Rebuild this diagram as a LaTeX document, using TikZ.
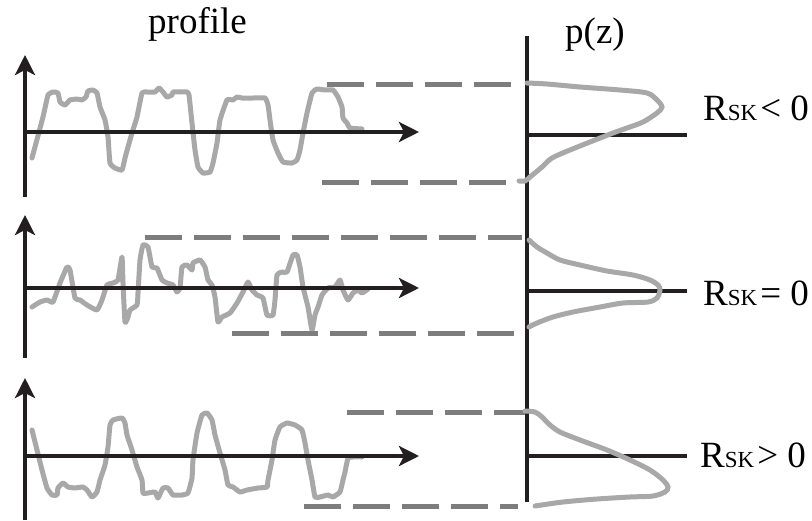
\documentclass[tikz,border=0pt]{standalone}
\usepackage{fontspec}
\setmainfont{Liberation Serif}
\usetikzlibrary{arrows.meta}
\definecolor{axisblack}{RGB}{35,31,32}
\definecolor{curvegray}{RGB}{168,168,168}
\definecolor{levelgray}{RGB}{125,125,125}
\tikzset{
  axis/.style={draw=axisblack, line width=4.5pt},
  arrowaxis/.style={axis, -{Stealth[length=20pt,width=20pt,inset=5pt]}},
  profilecurve/.style={draw=curvegray, line width=5pt, line join=round, line cap=round},
  densitycurve/.style={draw=curvegray, line width=5pt, line cap=round},
  level/.style={draw=levelgray, line width=5pt, dash pattern=on 37pt off 12pt},
  lbl/.style={inner sep=0pt, anchor=base west, font=\fontsize{37}{40}\selectfont},
  rsk/.style={inner sep=0pt, anchor=base west, font=\fontsize{37}{40}\selectfont},
}
\newcommand{\skname}{R{\fontsize{23}{23}\selectfont SK}\kern3pt}
\begin{document}
\begin{tikzpicture}[x=1pt,y=-1pt]
\useasboundingbox (0,0) rectangle (812,520);

% ---------- titles ----------
\node[lbl] (tprofile) at (148,33) {profile};
\node[lbl] (tpz) at (565,43) {p(z)};

% ---------- profile curves ----------
\draw[profilecurve] plot[smooth, tension=0.25] coordinates {
 (32,158) (43,117) (48,95) (53,92) (58,93) (60,102) (65,105) (70,100) (77,99)
 (82,100) (86,97) (88,91) (93,90) (97,93) (100,107) (105,120) (108,137) (110,163)
 (115,168) (122,170) (125,158) (128,147) (132,133) (137,117) (142,93) (147,92)
 (155,92) (159,88) (163,92) (167,97) (172,95) (173,92) (180,92) (187,92) (189,95)
 (192,123) (195,150) (198,167) (203,173) (210,172) (213,163) (217,143) (220,120)
 (227,100) (233,100) (237,97) (242,98) (253,98) (265,98) (268,105) (270,120)
 (273,140) (278,153) (283,162) (292,163) (297,160) (300,150) (303,133) (307,113)
 (312,93) (317,89) (325,90) (333,90) (338,97) (342,107) (343,118) (347,123)
 (350,128) (362,129)};

\draw[profilecurve] plot[smooth, tension=0.25] coordinates {
 (32,307) (40,302) (47,300) (53,302) (60,283) (67,267) (70,270) (75,298) (80,300)
 (87,305) (97,310) (102,300) (107,285) (113,283) (118,280) (122,257) (123,283)
 (125,322) (128,317) (130,310) (137,305) (138,293) (140,260) (143,245) (148,247)
 (152,267) (157,268) (162,280) (167,283) (173,285) (177,292) (180,288) (182,267)
 (187,265) (192,270) (193,263) (200,260) (205,267) (208,280) (212,285) (215,297)
 (218,322) (222,317) (230,313) (237,303) (243,292) (248,282) (252,290) (257,295)
 (263,298) (267,315) (273,315) (275,300) (277,275) (282,272) (287,272) (293,255)
 (297,255) (300,267) (303,287) (308,307) (312,330) (315,315) (318,307) (322,295)
 (328,288) (335,287) (340,280) (343,290) (348,300) (353,293) (358,290) (362,293)
 (368,289)};

\draw[profilecurve] plot[smooth, tension=0.25] coordinates {
 (32,430) (37,450) (42,470) (47,488) (52,495) (57,495) (58,488) (63,483) (68,487)
 (75,488) (83,487) (87,490) (92,497) (97,492) (100,480) (105,465) (108,447)
 (110,425) (113,420) (122,418) (125,423) (127,435) (132,450) (137,467) (142,480)
 (143,493) (148,493) (155,492) (158,498) (163,488) (168,488) (173,495) (182,495)
 (188,493) (192,478) (193,460) (197,433) (202,415) (207,413) (212,420) (215,435)
 (220,453) (225,470) (228,485) (233,487) (240,492) (247,490) (258,488) (267,487)
 (268,480) (272,460) (275,440) (280,427) (287,423) (295,425) (302,430) (305,443)
 (308,460) (312,480) (315,497) (320,497) (328,495) (333,497) (340,492) (343,480)
 (345,472) (348,458) (353,457) (362,457)};

% ---------- profile axes ----------
\coordinate (v1a) at (25,197); \coordinate (v1b) at (25,55);
\coordinate (h1a) at (23,132); \coordinate (h1b) at (419,132);
\coordinate (v2a) at (25,358); \coordinate (v2b) at (25,215);
\coordinate (h2a) at (23,288); \coordinate (h2b) at (419,288);
\coordinate (v3a) at (25,520); \coordinate (v3b) at (25,378);
\coordinate (h3a) at (23,456); \coordinate (h3b) at (419,456);
\draw[arrowaxis] (v1a) -- (v1b);
\draw[arrowaxis] (h1a) -- (h1b);
\draw[arrowaxis] (v2a) -- (v2b);
\draw[arrowaxis] (h2a) -- (h2b);
\draw[arrowaxis] (v3a) -- (v3b);
\draw[arrowaxis] (h3a) -- (h3b);

% ---------- peak / valley levels ----------
\coordinate (u1a) at (327,84);  \coordinate (u1b) at (520,84);
\coordinate (l1a) at (322,182); \coordinate (l1b) at (510,182);
\coordinate (u2a) at (145,237); \coordinate (u2b) at (522,237);
\coordinate (l2a) at (232,333); \coordinate (l2b) at (515,333);
\coordinate (u3a) at (347,412); \coordinate (u3b) at (525,412);
\coordinate (l3a) at (304,506); \coordinate (l3b) at (518,506);
\draw[level] (u1a) -- (u1b);
\draw[level] (l1a) -- (l1b);
\draw[level] (u2a) -- (u2b);
\draw[level] (l2a) -- (l2b);
\draw[level] (u3a) -- (u3b);
\draw[level] (l3a) -- (l3b);

% ---------- density axes ----------
\coordinate (pa) at (527,36); \coordinate (pb) at (527,502);
\draw[axis] (pa) -- (pb);
\coordinate (m1a) at (527,135); \coordinate (m1b) at (687,135);
\coordinate (m2a) at (527,291); \coordinate (m2b) at (687,291);
\coordinate (m3a) at (527,456); \coordinate (m3b) at (687,456);
\draw[axis] (m1a) -- (m1b);
\draw[axis] (m2a) -- (m2b);
\draw[axis] (m3a) -- (m3b);

% ---------- height distributions ----------
\draw[densitycurve] plot[smooth, tension=0.5] coordinates {
 (527,83) (547,84) (580,87) (620,90) (647,93) (657,100) (662,107) (657,113)
 (643,122) (627,128) (613,133) (590,142) (570,150) (552,158) (542,167) (530,177)
 (525,181) (519,181)};
\draw[densitycurve] plot[smooth, tension=0.5] coordinates {
 (529,240) (537,247) (547,253) (560,260) (580,265) (607,271) (633,275) (650,280)
 (658,285) (660,290) (657,298) (648,302) (623,303) (600,307) (573,312) (553,317)
 (537,323) (529,327)};
\draw[densitycurve] plot[smooth, tension=0.5] coordinates {
 (525,411) (535,412) (542,417) (550,425) (560,432) (580,440) (607,450) (630,460)
 (650,470) (663,480) (668,487) (665,492) (653,496) (630,497) (597,499) (563,502)
 (535,506)};

% ---------- skewness labels ----------
\node[rsk] (sneg) at (703,120) {\skname<\ 0};
\node[rsk] (szero) at (703,305) {\skname=\ 0};
\node[rsk] (spos) at (700,467) {\skname>\ 0};
\end{tikzpicture}
\end{document}
